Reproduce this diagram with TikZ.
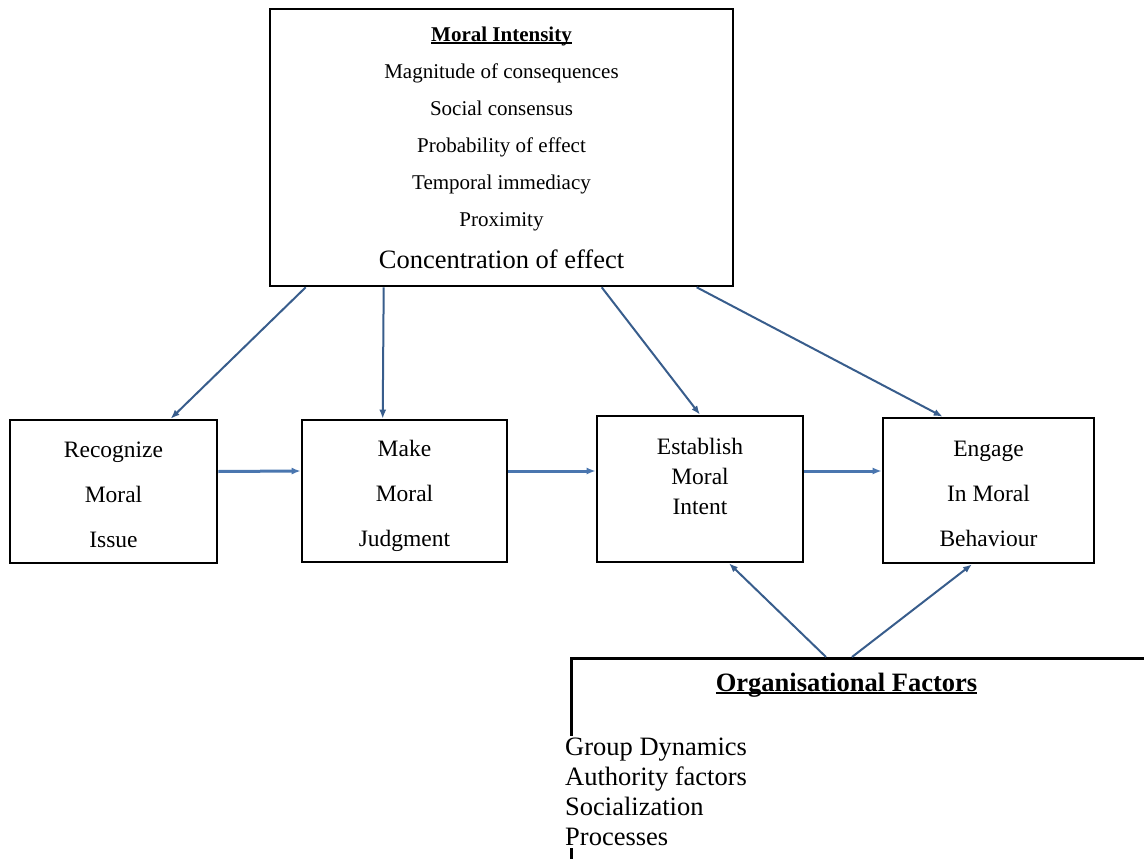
\documentclass[tikz,border=0pt]{standalone}
\usepackage{fontspec}
\setmainfont{Liberation Serif}
\usepackage{tikz}
\usetikzlibrary{arrows,arrows.meta,positioning,calc}
\definecolor{linkblue}{RGB}{56,93,140}
\definecolor{flowblue}{RGB}{74,118,175}
\newcommand{\ulined}[1]{\leavevmode\setbox0\hbox{#1}\rlap{\rule[-2.5pt]{\wd0}{1.3pt}}\box0}

\begin{document}
\begin{tikzpicture}[
    x=1pt, y=-1pt,
    >={Latex[length=9pt,width=7pt]},
    panel/.style={
		rectangle,
		draw=black,
		line width=2.6pt,
		align=center,
		inner sep=0pt
	},
    stage/.style={
		panel,
		text height=111pt,
		text depth=0pt,
		font=\fontsize{23.5}{45}\selectfont
	},
	link/.style={
		draw=linkblue,
		line width=2pt,
		->
	},
	flow/.style={
		draw=flowblue,
		line width=3pt,
		->
	}
  ]
  \useasboundingbox (0,0) rectangle (1144,859);
    % We start by placing the blocks

  \node [panel, minimum width=463pt, minimum height=277pt,
         font=\fontsize{21}{37}\selectfont] (intensity) at (501.5,147.5)
 {%
  \ulined{\textbf{Moral Intensity}}\\
  Magnitude of consequences\\
  Social consensus\\
  Probability of effect\\
  Temporal immediacy\\
  Proximity\\[5pt]
  {\fontsize{26.5}{32}\selectfont Concentration of effect}
 };

  \node [stage, minimum width=207pt, minimum height=143pt] (recognize) at (113.5,491.5)
 {Recognize\\Moral\\Issue};

  \node [stage, minimum width=205pt, minimum height=142pt] (judgment) at (404.5,491)
 {Make\\Moral\\Judgment};

  \node [stage, minimum width=206pt, minimum height=146pt,
         font=\fontsize{23.5}{30}\selectfont] (intent) at (700,489)
 {Establish\\Moral\\Intent\\\mbox{}};

  \node [stage, minimum width=211pt, minimum height=145pt] (behaviour) at (988.5,490.5)
 {Engage\\In Moral\\Behaviour};

  \node [panel, anchor=north west, minimum width=640pt, minimum height=260pt] (factors) at (570,657) {};

  \node [font=\fontsize{26.5}{30}\selectfont\bfseries] (factorstitle) at (846.5,685)
 {\ulined{Organisational Factors}};

  \node [fill=white, align=left, anchor=north west, inner sep=2pt,
         font=\fontsize{26.5}{30}\selectfont] (factorlist) at (563,736)
 {Group Dynamics\\Authority factors\\Socialization\\Processes};

 \draw [link] ([xshift=37pt]intensity.south west) -- ([xshift=162pt]recognize.north west);
 \draw [link] ([xshift=115pt]intensity.south west) -- ([xshift=82pt]judgment.north west);
 \draw [link] ([xshift=333pt]intensity.south west) -- (intent.north);
 \draw [link] ([xshift=428pt]intensity.south west) -- ([xshift=61pt]behaviour.north west);

 \draw [flow] ([yshift=20pt]recognize.east) -- ([yshift=20pt]judgment.west);
 \draw [flow] ([yshift=20pt]judgment.east) -- ([yshift=18pt]intent.west);
 \draw [flow] ([yshift=18pt]intent.east) -- ([yshift=19.5pt]behaviour.west);

 \draw [link] ([xshift=256pt]factors.north west) -- ([xshift=29pt]intent.south);
 \draw [link] ([xshift=282pt]factors.north west) -- ([xshift=-16.5pt]behaviour.south);

\end{tikzpicture}
\end{document}
